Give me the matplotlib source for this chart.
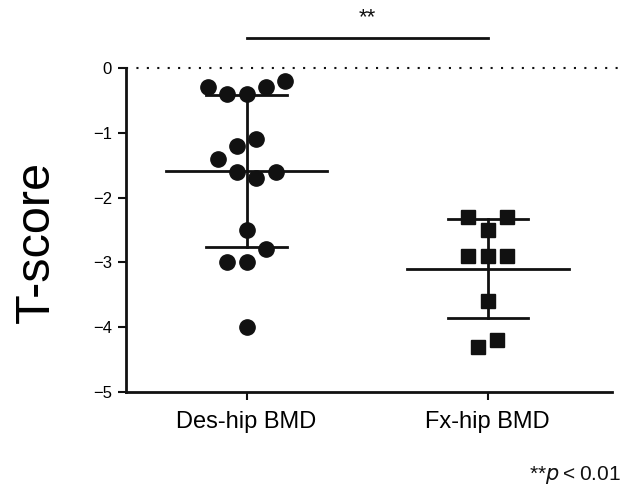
import numpy as np
import matplotlib
matplotlib.use("Agg")
import matplotlib.pyplot as plt

plt.rcParams['font.family'] = ['Liberation Sans', 'DejaVu Sans']

# 数据
groups = ["Des-hip BMD", "Fx-hip BMD"]
des_vals = [-0.3, -0.4, -0.4, -0.3, -0.2, -1.1, -1.2, -1.4, -1.6, -1.7, -1.6,
            -2.5, -2.8, -3.0, -3.0, -4.0]
des_slot = [-2, -1, 0, 1, 2, 0.5, -0.5, -1.5, -0.5, 0.5, 1.5, 0, 1, -1, 0, 0]
fx_vals = [-2.3, -2.3, -2.5, -2.9, -2.9, -2.9, -3.6, -4.2, -4.3]
fx_slot = [-1, 1, 0, -1, 0, 1, 0, 0.5, -0.5]
yticks = [0, -1, -2, -3, -4, -5]

fig = plt.figure(figsize=(6.25, 4.97), dpi=100)
ax = fig.add_axes([0.2016, 0.2113, 0.7776, 0.6519])

step = 0.08
series = [(des_vals, des_slot, 'o', 11), (fx_vals, fx_slot, 's', 10)]
for i, (vals, slot, mk, ms) in enumerate(series):
    vals = np.array(vals)
    xs = i + np.array(slot) * step
    ax.plot(xs, vals, mk, color='#111111', ms=ms, mec='#111111',
            linestyle='none', zorder=3, clip_on=False)
    m = vals.mean()
    sd = vals.std(ddof=1)
    # 均值线 + 标准差
    ax.plot([i - 0.335, i + 0.335], [m, m], color='#111111', lw=2, zorder=4)
    ax.plot([i, i], [m - sd, m + sd], color='#111111', lw=2, zorder=4)
    for yy in (m - sd, m + sd):
        ax.plot([i - 0.167, i + 0.167], [yy, yy], color='#111111', lw=2, zorder=4)

# 0 处虚线
ax.plot([-0.5, 1.54], [0, 0], color='#111111', lw=1.5,
        linestyle=(0, (1, 4)), clip_on=False, zorder=2)

ax.set_xlim(-0.5, 1.515)
ax.set_ylim(-5, 0)
ax.set_xticks([0, 1])
ax.set_xticklabels(groups, fontsize=17)
ax.set_yticks(yticks)
ax.set_yticklabels(['0'] + ['\u2212%d' % (-t) for t in yticks[1:]], fontsize=12)
ax.tick_params(axis='both', direction='out', length=6, width=1.5, color='#111111')
ax.tick_params(axis='x', pad=8)
ax.tick_params(axis='y', pad=4)
for s in ['top', 'right']:
    ax.spines[s].set_visible(False)
for s in ['left', 'bottom']:
    ax.spines[s].set_linewidth(2)
    ax.spines[s].set_color('#111111')

ax.set_ylabel('T-score', fontsize=35)
ax.yaxis.set_label_coords(-0.139, 0.463)

# 显著性标记
ax.plot([0, 1], [0.46, 0.46], color='#111111', lw=2, clip_on=False)
ax.text(0.5, 0.62, '**', ha='center', va='bottom', fontsize=16, color='#111111')

fig.text(0.993, 0.035, r'**$\mathit{p}$' + '\u2009<\u20090.01', ha='right', va='baseline',
         fontsize=15, color='#111111', family=['Liberation Sans', 'DejaVu Sans'])

fig.savefig('out.png', dpi=100)
